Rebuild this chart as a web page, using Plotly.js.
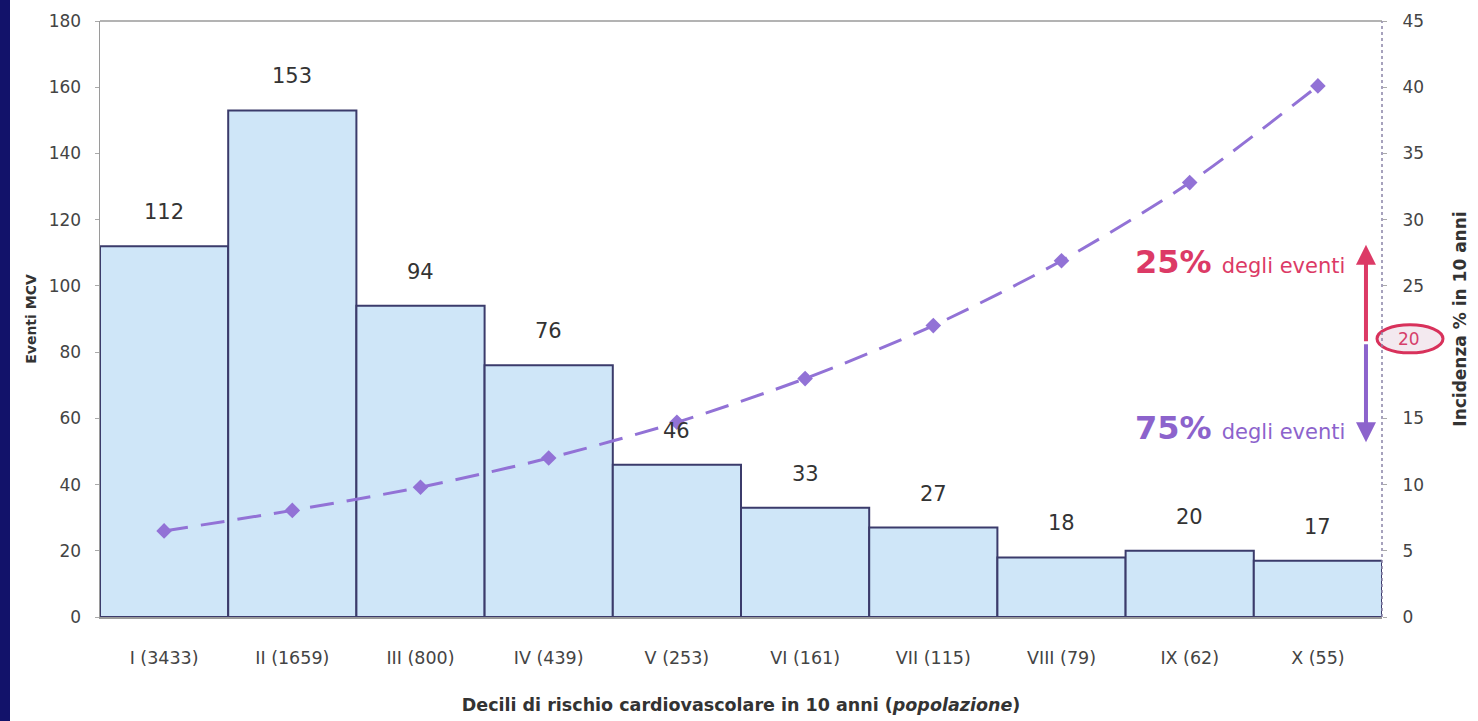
<!DOCTYPE html>
<html>
<head>
<meta charset="utf-8">
<script src="https://cdn.plot.ly/plotly-3.0.1.min.js"></script>
<style>
html,body{margin:0;padding:0;background:#ffffff;}
#wrap{position:relative;width:1478px;height:721px;background:#fff;}
#band{position:absolute;left:0;top:0;width:10px;height:721px;background:#12126a;}
#chart{position:absolute;left:0;top:0;width:1478px;height:721px;}
</style>
</head>
<body>
<div id="wrap"><div id="chart"></div><div id="band"></div></div>
<script>
const categories = ["I (3433)", "II (1659)", "III (800)", "IV (439)", "V (253)", "VI (161)", "VII (115)", "VIII (79)", "IX (62)", "X (55)"];
const events = [112, 153, 94, 76, 46, 33, 27, 18, 20, 17];
const incidence = [6.5, 8.05, 9.8, 12.0, 14.7, 18.0, 22.0, 26.9, 32.8, 40.1];
const leftTicks = [0, 20, 40, 60, 80, 100, 120, 140, 160, 180];
const rightTicks = [0, 5, 10, 15, 25, 30, 35, 40, 45];
const splitLevel = 20.7, topLevel = 28.1, bottomLevel = 13.2, labelLevel = 21;

const FONT = "DejaVu Sans";
const PINK = "#dc3a66";
const PURPLE = "#8c63cc";

const bars = {
  type: "bar", x: categories, y: events, yaxis: "y",
  marker: {color: "#cfe6f8", line: {color: "#3b3b6b", width: 2}},
  hoverinfo: "x+y"
};
const line = {
  type: "scatter", mode: "lines+markers", x: categories, y: incidence, yaxis: "y2",
  line: {color: "#9272d6", width: 3, dash: "24px,13px", shape: "spline", smoothing: 0.8},
  marker: {symbol: "diamond", size: 12, color: "#9272d6"}
};

const annotations = events.map((v, i) => ({
  x: categories[i], y: v, xref: "x", yref: "y", text: String(v), showarrow: false,
  yshift: 34, font: {family: FONT, size: 21, color: "#333"}
}));

annotations.push(
  {xref: "paper", yref: "y2", x: 0.9875, y: topLevel, axref: "pixel", ayref: "y2", ax: 0, ay: splitLevel,
   showarrow: true, arrowhead: 2, arrowsize: 1, arrowwidth: 4, arrowcolor: PINK, text: ""},
  {xref: "paper", yref: "y2", x: 0.9875, y: bottomLevel, axref: "pixel", ayref: "y2", ax: 0, ay: splitLevel,
   showarrow: true, arrowhead: 2, arrowsize: 1, arrowwidth: 4, arrowcolor: PURPLE, text: ""},
  {xref: "paper", yref: "y2", x: 0.973, y: 26.8, xanchor: "right", yanchor: "middle", showarrow: false,
   text: "<b>25%</b> <span style='font-size:21px'>degli eventi</span>", font: {family: FONT, size: 32, color: PINK}},
  {xref: "paper", yref: "y2", x: 0.973, y: 14.3, xanchor: "right", yanchor: "middle", showarrow: false,
   text: "<b>75%</b> <span style='font-size:21px'>degli eventi</span>", font: {family: FONT, size: 32, color: PURPLE}},
  {xref: "paper", yref: "y2", x: 1, xshift: 27, y: labelLevel, xanchor: "center", yanchor: "middle", showarrow: false,
   text: "20", font: {family: FONT, size: 17, color: "#d6406a"}}
);

const shapes = [
  {type: "line", xref: "paper", yref: "paper", x0: 1, x1: 1, y0: 0, y1: 1, line: {color: "#8a84a8", width: 1.5, dash: "dot"}},
  {type: "circle", xref: "paper", yref: "y2", xsizemode: "pixel", ysizemode: "pixel",
   xanchor: 1, yanchor: labelLevel, x0: -5, x1: 61, y0: -14, y1: 14,
   fillcolor: "#f3e9ef", line: {color: "#d8315b", width: 3}, layer: "below"},
  {type: "line", xref: "paper", yref: "paper", x0: 0, x1: 1, y0: 1, y1: 1, line: {color: "#9a9a9a", width: 1.5}}
];

const layout = {
  width: 1478, height: 721,
  margin: {l: 100, r: 96, t: 21, b: 104},
  paper_bgcolor: "#ffffff", plot_bgcolor: "#ffffff",
  bargap: 0, showlegend: false,
  font: {family: FONT, color: "#444"},
  xaxis: {
    type: "category", range: [-0.5, 9.5], showline: true, linecolor: "#9a9a9a", linewidth: 1.5,
    ticks: "", tickfont: {family: FONT, size: 17.5, color: "#444"}, ticklabelstandoff: 24,
    title: {text: "<b>Decili di rischio cardiovascolare in 10 anni (<i>popolazione</i>)</b>", font: {family: FONT, size: 17.5, color: "#333"}, standoff: 32},
    showgrid: false, zeroline: false
  },
  yaxis: {
    range: [0, 180], tickvals: leftTicks, showline: true, linecolor: "#9a9a9a", linewidth: 1.5,
    ticks: "outside", ticklen: 4, tickcolor: "#aaa", tickfont: {family: FONT, size: 17, color: "#444"},
    ticklabelstandoff: 10, showgrid: false, zeroline: false,
    title: {text: "<b>Eventi MCV</b>", font: {family: FONT, size: 14, color: "#333"}, standoff: 8}
  },
  yaxis2: {
    range: [0, 45], overlaying: "y", side: "right", tickvals: rightTicks, showline: false,
    ticks: "outside", ticklen: 4, tickcolor: "#aaa", tickfont: {family: FONT, size: 17, color: "#444"},
    ticklabelstandoff: 12, showgrid: false, zeroline: false,
    title: {text: "<b>Incidenza % in 10 anni</b>", font: {family: FONT, size: 17, color: "#333"}, standoff: 31}
  },
  annotations: annotations,
  shapes: shapes
};

Plotly.newPlot("chart", [bars, line], layout, {displayModeBar: false, staticPlot: true});
</script>
</body>
</html>
